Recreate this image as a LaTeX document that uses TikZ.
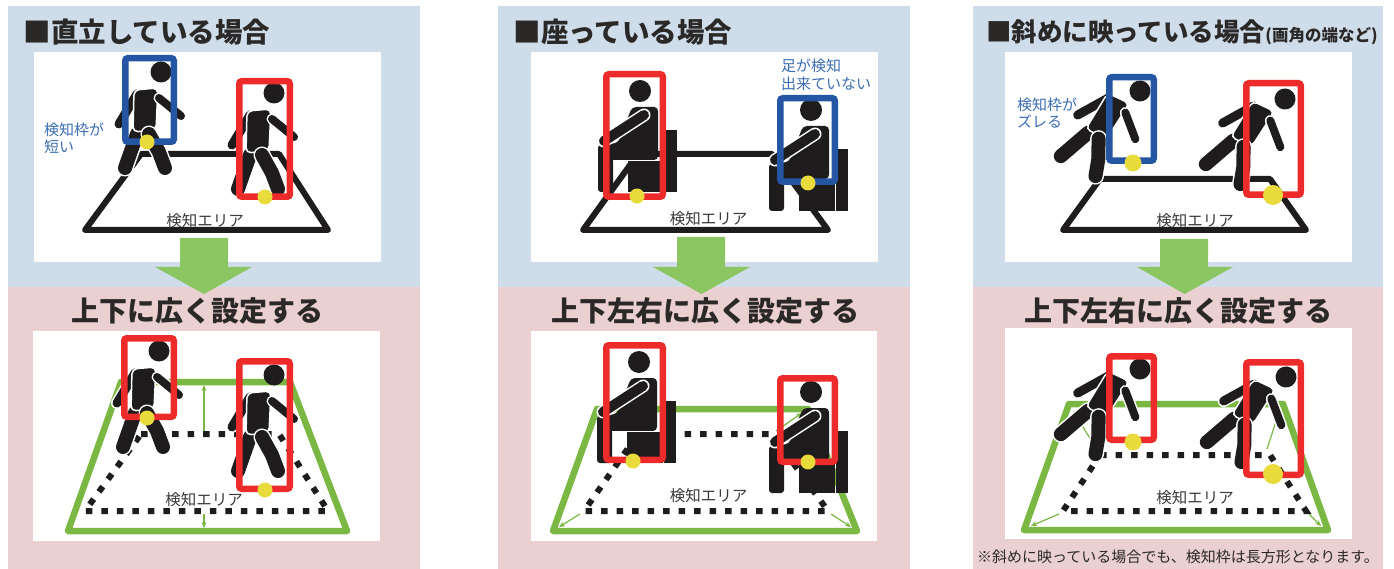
\documentclass[tikz,border=0pt]{standalone}
\usepackage{fontspec}
\newfontfamily\jp{Noto Sans CJK JP}
\usetikzlibrary{arrows.meta}
\definecolor{bgblue}{HTML}{CFDDEA}
\definecolor{bgpink}{HTML}{EBD0D1}
\definecolor{bigarrow}{HTML}{8CC663}
\definecolor{grn}{HTML}{7BB843}
\definecolor{boxred}{HTML}{EE2B2B}
\definecolor{boxblue}{HTML}{2456A4}
\definecolor{ydot}{HTML}{EADB3C}
\definecolor{ink}{HTML}{1E1C1D}
\definecolor{txtblue}{HTML}{3C6DB4}
\definecolor{titlec}{HTML}{2B2828}
\definecolor{lblc}{HTML}{3A3A3A}
\tikzset{
  redbox/.style={draw=boxred,line width=6.5pt,rounded corners=2.5pt},
  bluebox/.style={draw=boxblue,line width=6.5pt,rounded corners=2.5pt},
  area/.style={draw=ink,line width=6pt,line join=round,line cap=round},
  dotarea/.style={draw=ink,line width=6pt,dash pattern=on 6.5pt off 9pt},
  grarea/.style={draw=grn,line width=6.5pt,line join=round},
  garrow/.style={draw=grn,line width=1.2pt,-{Stealth[length=6pt,width=5pt]}},
  bigarr/.style={fill=bigarrow},
  ttl/.style={font=\jp\bfseries\fontsize{27.5pt}{30pt}\selectfont,text=titlec,inner sep=0pt},
  ttlb/.style={font=\jp\bfseries\fontsize{28pt}{30pt}\selectfont,text=titlec,inner sep=0pt},
  lbl/.style={font=\jp\fontsize{15.5pt}{17pt}\selectfont,text=lblc,inner sep=0pt},
  btxt/.style={font=\jp\fontsize{15pt}{17.5pt}\selectfont,text=txtblue,align=left,inner sep=0pt},
  note/.style={font=\jp\fontsize{15pt}{17pt}\selectfont,text=titlec,inner sep=0pt}
}
\newcommand\limb[3]{\draw[white,line width=#2,line cap=round,line join=round] #3; \draw[ink,line width=#1,line cap=round,line join=round] #3;}
\newcommand\walker[3]{%
\begin{scope}[shift={(#1,#2)},rotate=#3]
\limb{9pt}{12pt}{(-24,22) -- (-42,52)}
\limb{14pt}{17pt}{(-24,62) -- (-36,96)}
\filldraw[fill=ink,draw=white,line width=1.5pt,rounded corners=5pt] (-27,18) -- (-3,16) -- (-5,58) -- (-28,60) -- cycle;
\limb{14pt}{17pt}{(-12,62) -- (-2,80) -- (4,96)}
\limb{8pt}{11pt}{(-2,26) -- (20,44)}
\fill[ink] (0,0) circle[radius=10.5pt];
\end{scope}}
\newcommand\sitter[2]{%
\begin{scope}[shift={(#1,#2)}]
\fill[ink] (25,39) rectangle (37,101);
\fill[ink] (-12,70) rectangle (24,101);
\fill[ink,rounded corners=3pt] (-42,54) rectangle (-27,101);
\fill[ink,rounded corners=4pt] (-8,16) -- (18,16) -- (18,69) -- (-42,69) -- (-42,54) -- (-22,52) -- cycle;
\draw[white,line width=1.5pt] (-27,69.5) -- (24,69.5);
\limb{10pt}{13pt}{(4,24) -- (-36,50)}
\fill[ink] (0,0) circle[radius=11pt];
\end{scope}}
\begin{document}
\begin{tikzpicture}[x=1pt,y=-1pt]
\useasboundingbox (0,0) rectangle (1394,569);
\fill[white] (0,0) rectangle (1394,569);
% ---------- backgrounds
\fill[bgblue] (8,6) rectangle (420,287);
\fill[bgpink] (8,287) rectangle (420,569);
\fill[bgblue] (498,6) rectangle (910,287);
\fill[bgpink] (498,287) rectangle (910,569);
\fill[bgblue] (973,6) rectangle (1383,287);
\fill[bgpink] (973,287) rectangle (1383,569);
% white picture areas
\fill[white] (34,52) rectangle (381,262);
\fill[white] (33,331) rectangle (380,541);
\fill[white] (531,52) rectangle (878,262);
\fill[white] (531,331) rectangle (877,541);
\fill[white] (1005,52) rectangle (1352,262);
\fill[white] (1005,328) rectangle (1352,539);
% ---------- coordinates
\coordinate (A1a) at (141,154); \coordinate (A1b) at (279,154); \coordinate (A1c) at (328,230); \coordinate (A1d) at (85,230);
\coordinate (D1a) at (141,434); \coordinate (D1b) at (279,434); \coordinate (D1c) at (328,511); \coordinate (D1d) at (85,511);
\coordinate (G1a) at (121,382); \coordinate (G1b) at (290,382); \coordinate (G1c) at (347,531); \coordinate (G1d) at (68,531);
\coordinate (A2a) at (638,154); \coordinate (A2b) at (772,154); \coordinate (A2c) at (828,230); \coordinate (A2d) at (583,230);
\coordinate (D2a) at (638,434); \coordinate (D2b) at (772,434); \coordinate (D2c) at (828,511); \coordinate (D2d) at (584,511);
\coordinate (G2a) at (597,409); \coordinate (G2b) at (808,409); \coordinate (G2c) at (857,531); \coordinate (G2d) at (553,531);
\coordinate (A3a) at (1100,179); \coordinate (A3b) at (1270,179); \coordinate (A3c) at (1306,230); \coordinate (A3d) at (1063,230);
\coordinate (D3a) at (1100,455); \coordinate (D3b) at (1270,455); \coordinate (D3c) at (1306,511); \coordinate (D3d) at (1063,511);
\coordinate (G3a) at (1069,404); \coordinate (G3b) at (1283,404); \coordinate (G3c) at (1328,530); \coordinate (G3d) at (1024,530);
% arrow end points
\coordinate (u1s) at (204,431); \coordinate (u1e) at (204,385);
\coordinate (v1s) at (204,514); \coordinate (v1e) at (204,528);
\coordinate (q2as) at (633,431); \coordinate (q2ae) at (603,413);
\coordinate (q2bs) at (776,431); \coordinate (q2be) at (802,413);
\coordinate (q2cs) at (831,514); \coordinate (q2ce) at (851,527);
\coordinate (q2ds) at (580,514); \coordinate (q2de) at (559,527);
\coordinate (q3as) at (1096,448); \coordinate (q3ae) at (1073,411);
\coordinate (q3bs) at (1267,449); \coordinate (q3be) at (1279,412);
\coordinate (q3cs) at (1309,514); \coordinate (q3ce) at (1321,526);
\coordinate (q3ds) at (1059,514); \coordinate (q3de) at (1031,526);
% ---------- areas
\draw[area] (A1a) -- (A1b) -- (A1c) -- (A1d) -- cycle;
\draw[area] (A2a) -- (A2b) -- (A2c) -- (A2d) -- cycle;
\draw[area] (A3a) -- (A3b) -- (A3c) -- (A3d) -- cycle;
\draw[grarea] (G1a) -- (G1b) -- (G1c) -- (G1d) -- cycle;
\draw[grarea] (G2a) -- (G2b) -- (G2c) -- (G2d) -- cycle;
\draw[grarea] (G3a) -- (G3b) -- (G3c) -- (G3d) -- cycle;
\draw[dotarea] (D1a) -- (D1b) -- (D1c) -- (D1d) -- cycle;
\draw[dotarea] (D2a) -- (D2b) -- (D2c) -- (D2d) -- cycle;
\draw[dotarea] (D3a) -- (D3b) -- (D3c) -- (D3d) -- cycle;
\draw[garrow] (u1s) -- (u1e);
\draw[garrow] (v1s) -- (v1e);
\draw[garrow] (q2as) -- (q2ae);
\draw[garrow] (q2bs) -- (q2be);
\draw[garrow] (q2cs) -- (q2ce);
\draw[garrow] (q2ds) -- (q2de);
\draw[garrow] (q3as) -- (q3ae);
\draw[garrow] (q3bs) -- (q3be);
\draw[garrow] (q3cs) -- (q3ce);
\draw[garrow] (q3ds) -- (q3de);
% ---------- figures
\walker{161}{72}{0}
\walker{274}{93}{0}
\walker{159}{351}{0}
\walker{274}{375}{0}
\sitter{640}{91}
\sitter{811}{110}
\sitter{639}{362}
\sitter{811}{392}
\walker{1140}{91}{-30}
\walker{1285}{99}{-30}
\walker{1140}{369}{-30}
\walker{1286}{377}{-30}
% ---------- detection boxes
\draw[bluebox] (125.25,58.25) rectangle (173.75,141.75);
\draw[redbox] (239.25,81.25) rectangle (289.75,196.75);
\draw[redbox] (124.25,338.25) rectangle (173.75,416.75);
\draw[redbox] (239.25,361.25) rectangle (289.75,488.75);
\draw[redbox] (606.25,74.25) rectangle (662.75,196.75);
\draw[bluebox] (780.25,98.25) rectangle (834.75,181.75);
\draw[redbox] (606.25,345.25) rectangle (662.75,459.75);
\draw[redbox] (780.25,378.25) rectangle (834.75,461.75);
\draw[bluebox] (1109.25,77.25) rectangle (1153.75,160.75);
\draw[redbox] (1246.25,83.25) rectangle (1300.75,194.75);
\draw[redbox] (1109.25,356.25) rectangle (1153.75,439.75);
\draw[redbox] (1246.25,362.25) rectangle (1300.75,474.75);
% foot points
\fill[ydot] (147,142) circle[radius=7.5pt];
\fill[ydot] (265,197) circle[radius=7.5pt];
\fill[ydot] (147,418) circle[radius=7.5pt];
\fill[ydot] (265,490) circle[radius=7.5pt];
\fill[ydot] (637,196) circle[radius=7.5pt];
\fill[ydot] (808,183) circle[radius=7.5pt];
\fill[ydot] (633,461) circle[radius=7.5pt];
\fill[ydot] (808,462) circle[radius=7.5pt];
\fill[ydot] (1133,163) circle[radius=8.5pt];
\fill[ydot] (1273,195) circle[radius=10pt];
\fill[ydot] (1133,442) circle[radius=8.5pt];
\fill[ydot] (1273,474) circle[radius=10pt];
% ---------- big arrows
\fill[bigarr] (180,238) -- (228,238) -- (228,267) -- (252,267) -- (204,294) -- (155,267) -- (180,267) -- cycle;
\fill[bigarr] (677,237) -- (725,237) -- (725,267) -- (750,267) -- (701.5,294) -- (653,267) -- (677,267) -- cycle;
\fill[bigarr] (1160,239) -- (1208,239) -- (1208,267) -- (1233,267) -- (1184.5,294) -- (1137,267) -- (1160,267) -- cycle;
% ---------- texts
\node[ttl] (t1) at (147,32) {■直立している場合};
\node[ttl] (t2) at (623,32) {■座っている場合};
\node[ttl,anchor=west] (t3) at (986,32) {{\fontsize{25.5pt}{28pt}\selectfont ■斜めに映っている場合}{\fontsize{16.5pt}{18pt}\selectfont (画角の端など)}};
\node[ttlb] (s1) at (197.5,311) {上下に広く設定する};
\node[ttlb] (s2) at (705,311) {上下左右に広く設定する};
\node[ttlb] (s3) at (1178.5,311) {上下左右に広く設定する};
\node[lbl] (l1) at (205,220.5) {検知エリア};
\node[lbl] (l2) at (204,499.5) {検知エリア};
\node[lbl] (l3) at (708.5,218.5) {検知エリア};
\node[lbl] (l4) at (708.5,495.5) {検知エリア};
\node[lbl] (l5) at (1195,220.5) {検知エリア};
\node[lbl] (l6) at (1195,497.5) {検知エリア};
\node[btxt] (n1) at (74,138) {検知枠が\\短い};
\node[btxt] (n2) at (826,75) {足が検知\\出来ていない};
\node[btxt] (n3) at (1047,113) {検知枠が\\ズレる};
\node[note] (f1) at (1178,557) {※斜めに映っている場合でも、検知枠は長方形となります。};
\end{tikzpicture}
\end{document}
